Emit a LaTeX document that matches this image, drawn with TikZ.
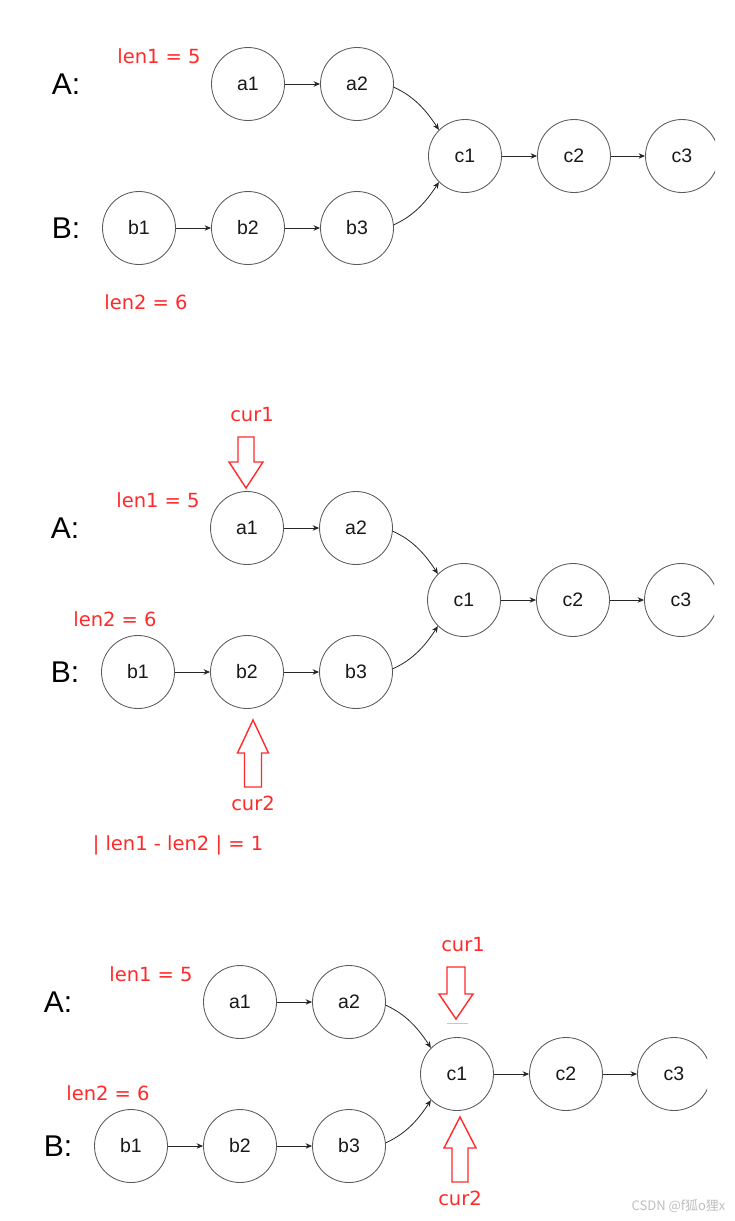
\documentclass[tikz,border=0pt]{standalone}
\usepackage{fontspec}
\setmainfont{Liberation Sans}
\newfontfamily\redfont{DejaVu Sans}
\newfontfamily\cjkfont{Noto Sans CJK SC}
\usetikzlibrary{arrows.meta}
\definecolor{cred}{HTML}{FF2A2A}
\definecolor{cgray}{HTML}{5A5A5A}
\tikzset{
  lnode/.style={circle, draw=cgray, line width=0.85pt, minimum size=73pt, inner sep=0pt,
    font=\fontsize{19.5}{20}\selectfont, text=black!90},
  link/.style={draw=black!85, line width=0.8pt, -{Stealth[length=6.5pt,width=5.5pt]}},
  biglabel/.style={font=\fontsize{30}{32}\selectfont},
  redlabel/.style={text=cred, font=\redfont\fontsize{19.5}{20}\selectfont},
  blockarrow/.style={draw=cred, line width=1.4pt, fill=white, line join=miter},
}
% #1 prefix, #2 x of a1, #3 y of a1
\newcommand\listpanel[3]{%
  \begin{scope}[shift={(#2,#3)}]
    \node[biglabel] (#1A) at (-182,0) {A:};
    \node[biglabel] (#1B) at (-182,144) {B:};
    \node[redlabel] (#1len1) at (-89,-28) {len1 = 5};
    \node[lnode] (#1a1) at (0,0) {a1};
    \node[lnode] (#1a2) at (109,0) {a2};
    \node[lnode] (#1b1) at (-109,144) {b1};
    \node[lnode] (#1b2) at (0,144) {b2};
    \node[lnode] (#1b3) at (109,144) {b3};
    \node[lnode] (#1c1) at (217,72) {c1};
    \node[lnode] (#1c2) at (326,72) {c2};
    \begin{scope}
      \clip (392,20) rectangle (467,124);
      \node[lnode] (#1c3) at (434,72) {c3};
    \end{scope}
    \draw[link] (#1a1) -- (#1a2);
    \draw[link] (#1b1) -- (#1b2);
    \draw[link] (#1b2) -- (#1b3);
    \draw[link] (#1c1) -- (#1c2);
    \draw[link] (#1c2) -- (#1c3);
    \draw[link] (#1a2.-5) .. controls +(20,9) and +(-13,-20) .. (#1c1.135);
    \draw[link] (#1b3.5) .. controls +(20,-9) and +(-13,20) .. (#1c1.225);
  \end{scope}}
% #1 tip x, #2 tip y, #3 side (-1: body above, +1: body below),
% #4 shaft half width, #5 head half width, #6 head length, #7 total length
\newcommand\blockarr[7]{%
  \draw[blockarrow] (#1,#2)
    -- ({#1+#5},{#2+#3*#6}) -- ({#1+#4},{#2+#3*#6})
    -- ({#1+#4},{#2+#3*#7}) -- ({#1-#4},{#2+#3*#7})
    -- ({#1-#4},{#2+#3*#6}) -- ({#1-#5},{#2+#3*#6}) -- cycle;}
\begin{document}
\begin{tikzpicture}[x=1pt,y=-1pt]
  \useasboundingbox[fill=white] (0,0) rectangle (734,1221);
  % panel 1
  \listpanel{p}{248}{84}
  \node[redlabel] (plen2) at (146,302) {len2 = 6};
  % panel 2
  \listpanel{q}{247}{528}
  \node[redlabel] (qlen2) at (115,619) {len2 = 6};
  \node[redlabel] (qcur1) at (252,415) {cur1};
  \node[redlabel] (qcur2) at (253,803) {cur2};
  \blockarr{246}{488}{-1}{8}{17}{26}{51}
  \blockarr{253}{720}{1}{8.5}{15.5}{33}{67}
  \node[redlabel] (qdiff) at (178,845) {| len1 - len2 | = 1};
  % panel 3
  \listpanel{r}{240}{1002}
  \node[redlabel] (rlen2) at (108,1093) {len2 = 6};
  \node[redlabel] (rcur1) at (463,945) {cur1};
  \node[redlabel] (rcur2) at (460,1198) {cur2};
  \blockarr{456}{1019}{-1}{9}{17}{25}{52}
  \blockarr{460}{1117}{1}{8}{16}{31}{65}
  \draw[gray!45, line width=0.8pt] (447,1023) -- (468,1023);
  \node[text=gray!50, font=\cjkfont\fontsize{13}{13}\selectfont, anchor=east] (wm) at (729,1206) {CSDN @f狐o狸x};
\end{tikzpicture}
\end{document}
